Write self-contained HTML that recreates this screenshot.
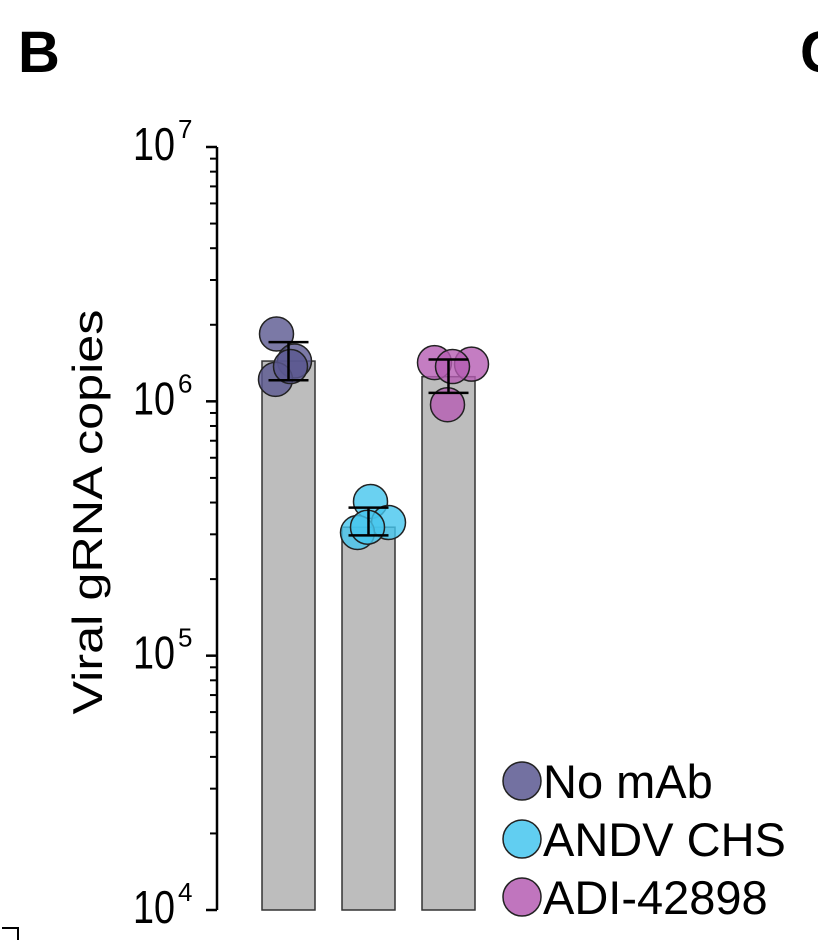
<!DOCTYPE html>
<html><head><meta charset="utf-8"><style>
body{margin:0;background:#fff;}
svg{display:block;font-family:"Liberation Sans",sans-serif;}
</style></head><body>
<svg id="chart" width="818" height="946" viewBox="0 0 818 946">
<text x="18" y="72" font-size="58" font-weight="bold">B</text>
<text x="800" y="72" font-size="58" font-weight="bold">C</text>
<path d="M2,928 H18 V940" fill="none" stroke="#000" stroke-width="2"/>
<text transform="translate(102,512) rotate(-90)" text-anchor="middle" font-size="42" textLength="405" lengthAdjust="spacingAndGlyphs">Viral gRNA copies</text>
<g id="axis"></g>
<g id="bars"></g>
<g id="pts"></g>
<g id="errs"></g>
<g id="legend"></g>
</svg>
<script>
const categories=["No mAb","ANDV CHS","ADI-42898"];
const colors=["#5a5890","#45c6ee","#b55db3"];
const barValues=[1.44e6,3.2e5,1.25e6];
const errLow=[1.21e6,2.97e5,1.08e6];
const errHigh=[1.71e6,3.82e5,1.46e6];
const pointValues=[[1.84e6,1.44e6,1.22e6,1.37e6],[4.04e5,3.34e5,3.05e5,3.2e5],[1.42e6,1.40e6,0.97e6,1.37e6]];
const jitter=[[-12,6,-13,2],[2,20,-11,-1],[-14,23,-1,4]];
const tickExps=[4,5,6,7];
const NS="http://www.w3.org/2000/svg";
const yTop=147,yBot=910,axX=217;
function y(v){return yBot-(Math.log10(v)-4)/3*(yBot-yTop);}
function bx(i){return 262+i*80;}
const bw=53;
function mk(t,a,p){const e=document.createElementNS(NS,t);for(const k in a)e.setAttribute(k,a[k]);p.appendChild(e);return e;}
const ax=document.getElementById('axis');
const al=mk('line',{x1:axX,x2:axX,y1:yTop,y2:yBot,stroke:'#000','stroke-width':2.5},ax);


for(let e=4;e<7;e++){for(let m=2;m<10;m++){const yy=y(m*Math.pow(10,e));
const t=mk('line',{x1:axX-7,x2:axX,y1:yy,y2:yy,stroke:'#000','stroke-width':2},ax);

}}
tickExps.forEach(e=>{const yy=y(Math.pow(10,e));
const t=mk('line',{x1:axX-11,x2:axX,y1:yy,y2:yy,stroke:'#000','stroke-width':2.5},ax);


const tx=mk('text',{x:133,y:yy+13,'font-size':46,textLength:42,lengthAdjust:'spacingAndGlyphs'},ax);
tx.textContent='10';


const sp=mk('text',{x:178,y:yy-9,'font-size':26},ax);sp.textContent=e;

});
const bg=document.getElementById('bars'),pg=document.getElementById('pts'),eg=document.getElementById('errs');
categories.forEach((c,i)=>{
const yt=y(barValues[i]);
const r=mk('rect',{x:bx(i),y:yt,width:bw,height:yBot-yt,fill:'#bdbdbd',stroke:'#333','stroke-width':1.5},bg);


const cx=bx(i)+bw/2;
pointValues[i].forEach((v,j)=>{const p=mk('circle',{cx:cx+jitter[i][j],cy:y(v),r:17,fill:colors[i],'fill-opacity':0.8,stroke:'#222','stroke-width':1.5},pg);

});
const e1=y(errHigh[i]),e2=y(errLow[i]);
const eb=mk('path',{d:`M${cx},${e1}V${e2}M${cx-20},${e1}H${cx+20}M${cx-20},${e2}H${cx+20}`,stroke:'#000','stroke-width':2.5,fill:'none'},eg);


});
const lg=document.getElementById('legend');
categories.forEach((c,i)=>{const yy=781+i*58;
const cc=mk('circle',{cx:522,cy:yy,r:19,fill:colors[i],'fill-opacity':0.85,stroke:'#222','stroke-width':1.5},lg);


const t=mk('text',{x:543,y:yy+17,'font-size':47},lg);t.textContent=c;

});
</script>
</body></html>
